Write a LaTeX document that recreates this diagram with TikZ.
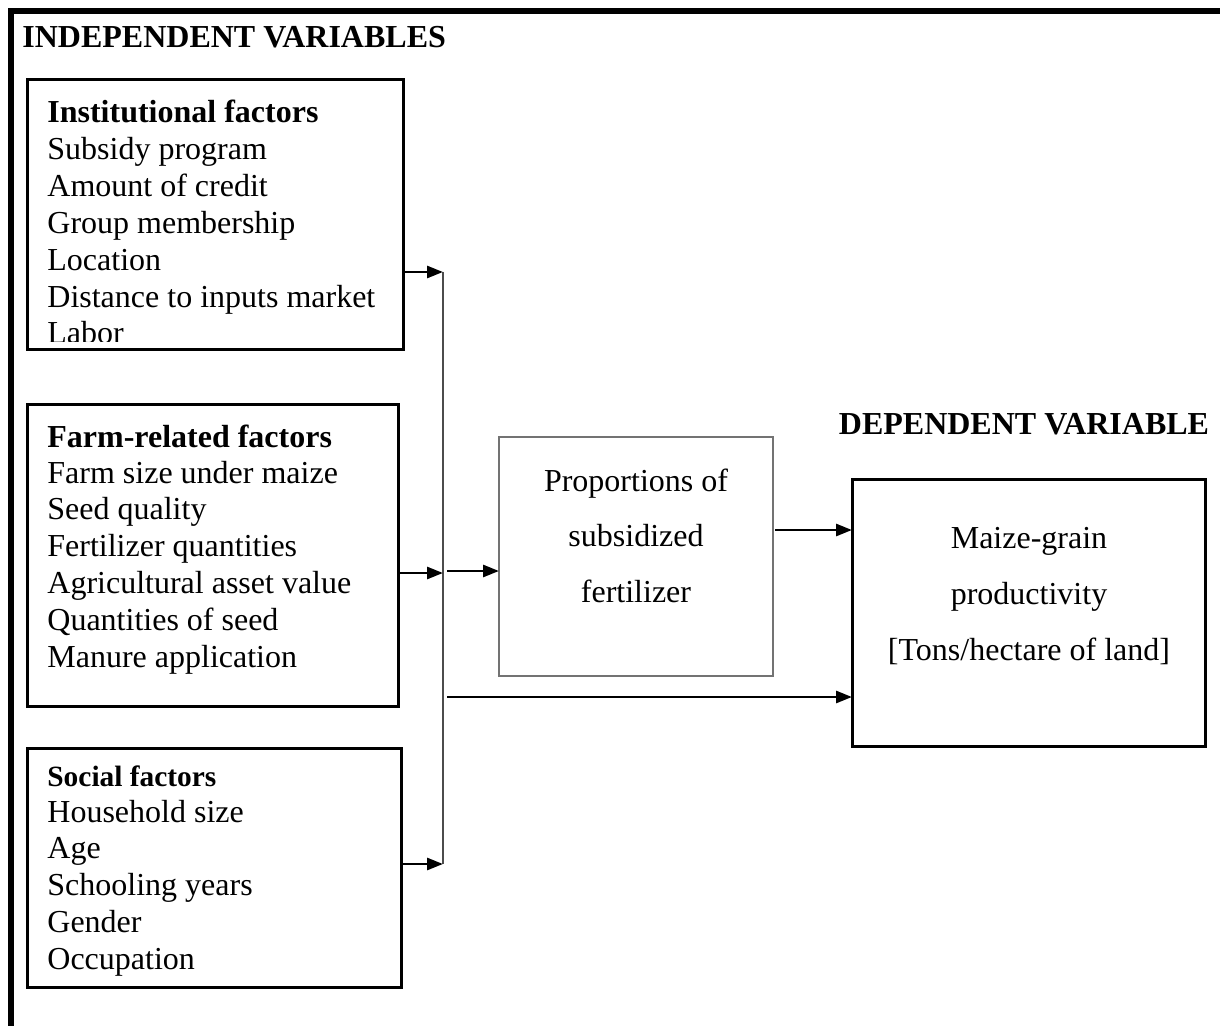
\documentclass[tikz,border=0pt]{standalone}
\usepackage{fontspec}
\setmainfont{Liberation Serif}
\usetikzlibrary{arrows.meta,positioning}

\begin{document}
\begin{tikzpicture}[x=0.5pt, y=-0.5pt,
    frame/.style={draw, line width=1.5pt, inner sep=0pt, outer sep=0pt, anchor=north west},
    thinframe/.style={draw=black!55, line width=0.6pt, inner sep=0pt, outer sep=0pt, anchor=north west},
    item/.style={font=\fontsize{16}{18}\selectfont, inner sep=0pt, anchor=base west},
    head/.style={item, font=\fontsize{16}{18}\selectfont\bfseries},
    arr/.style={-{Triangle[length=8pt, width=6pt]}, line width=1.4pt},
  ]
  \useasboundingbox (0,0) rectangle (1220,1026);
  % outer frame
  \draw[line width=3pt] (11,1026) -- (11,11) -- (1220,11);
  \node[head] (indep) at (22,48) {INDEPENDENT VARIABLES};
  \node[head, anchor=base] (dep) at (1024,434) {DEPENDENT VARIABLE};

  % factor boxes
  \node[frame, minimum width=188pt, minimum height=135pt] (inst) at (27,80) {};
  \node[frame, minimum width=185.5pt, minimum height=150.5pt] (farm) at (27,405) {};
  \node[frame, minimum width=187pt, minimum height=119.5pt] (social) at (27,748) {};
  \node[thinframe, minimum width=137pt, minimum height=119.5pt] (prop) at (499,437) {};
  \node[frame, minimum width=176.5pt, minimum height=133.5pt] (maize) at (852,479) {};

  \begin{scope}
    \clip (27,80) rectangle (403,342);
    \node[head] (insthead) at (47,123) {Institutional factors};
    \foreach \txt [count=\i from 0] in {Subsidy program, Amount of credit,
        Group membership, Location, Distance to inputs market, Labor}
      \node[item] (inst\i) at (47,{160+36.8*\i}) {\txt};
  \end{scope}

  \node[head] (farmhead) at (47,447) {Farm-related factors};
  \foreach \txt [count=\i from 0] in {Farm size under maize, Seed quality,
      Fertilizer quantities, Agricultural asset value, Quantities of seed,
      Manure application}
    \node[item] (farm\i) at (47,{483+36.8*\i}) {\txt};

  \node[head, font=\fontsize{14.7}{17}\selectfont\bfseries] (socialhead) at (47,786) {Social factors};
  \foreach \txt [count=\i from 0] in {Household size, Age, Schooling years,
      Gender, Occupation}
    \node[item] (social\i) at (47,{822+36.8*\i}) {\txt};

  \foreach \txt [count=\i from 0] in {Proportions of, subsidized, fertilizer}
    \node[item, anchor=base] (prop\i) at (636,{491+55.5*\i}) {\txt};
  \foreach \txt [count=\i from 0] in {Maize-grain, productivity, {[Tons/hectare of land]}}
    \node[item, anchor=base] (maize\i) at (1029,{548+56*\i}) {\txt};

  % connectors
  \coordinate (bustop) at (443,272);
  \coordinate (busmid) at (443,573);
  \coordinate (busbot) at (443,864);
  \draw[line width=0.6pt, black!70] (bustop) -- (busbot);
  \draw[arr] (inst.east |- bustop) -- (bustop);
  \draw[arr] (farm.east |- busmid) -- (busmid);
  \draw[arr] (social.east |- busbot) -- (busbot);
  \coordinate (toprop) at (447,571);
  \coordinate (fromprop) at (775,530);
  \coordinate (direct) at (447,697);
  \draw[arr] (toprop) -- (prop.west |- toprop);
  \draw[arr] (fromprop) -- (maize.west |- fromprop);
  \draw[arr] (direct) -- (maize.west |- direct);
\end{tikzpicture}
\end{document}
